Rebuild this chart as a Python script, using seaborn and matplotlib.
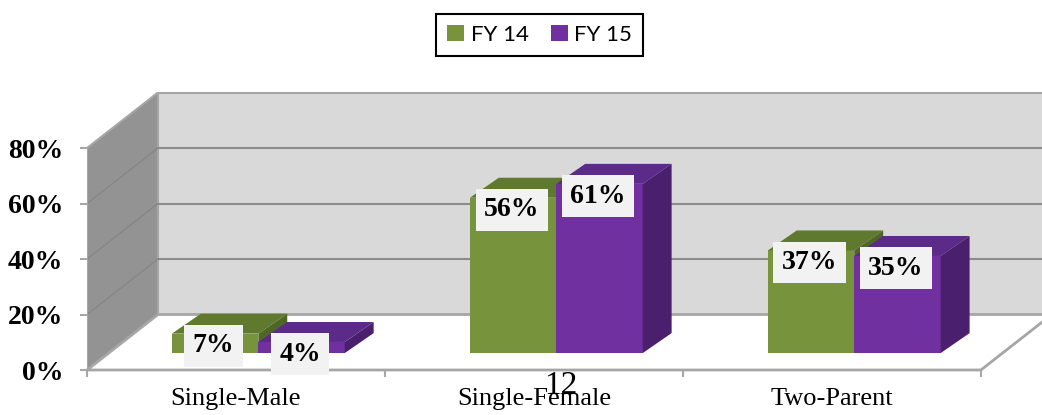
import numpy as np
import pandas as pd
import seaborn as sns
import matplotlib.pyplot as plt
from matplotlib.patches import Polygon, Rectangle

groups = ['Single-Male', 'Single-Female', 'Two-Parent']
fy14 = [7, 56, 37]
fy15 = [4, 61, 35]
years = ['FY 14', 'FY 15']
yticks = [0, 20, 40, 60, 80]

df = pd.DataFrame({
    'group': groups * 2,
    'value': fy14 + fy15,
    'year': [years[0]] * 3 + [years[1]] * 3,
})

green, purple = '#77933c', '#7030a0'
tops = {0: '#5f7a2e', 1: '#5c2a88'}
sides = {0: '#4f6626', 1: '#4a1f6e'}

sns.set_style('white')
plt.rcParams['text.color'] = 'black'
plt.rcParams['xtick.color'] = 'black'
plt.rcParams['ytick.color'] = 'black'
fig = plt.figure(figsize=(10.42, 4.15), dpi=100)
ax = fig.add_axes([87 / 1042, 45 / 415, 955 / 1042, 278 / 415])

sns.barplot(data=df, x='group', y='value', hue='year', palette=[green, purple],
            width=0.58, saturation=1, ax=ax, zorder=3, edgecolor='none', linewidth=0)
bars = [p for p in ax.patches if isinstance(p, Rectangle) and abs(p.get_width() - 0.29) < 0.01]

# depth of the pseudo 3d box, in data units
DX, DY = 0.238, 20.0
# bars sit a bit back from the front plane
bdx, bdy = 0.075, 6.1
ddx, ddy = 0.097, 7.2

ax.set_xlim(-0.5, 2.705)
ax.set_ylim(0, 100.2)
for s in ax.spines.values():
    s.set_visible(False)

# walls and floor
ax.add_patch(Polygon([(-0.5 + DX, DY), (2.5 + DX, DY), (2.5 + DX, 100), (-0.5 + DX, 100)],
                     closed=True, fc='#d9d9d9', ec='#a6a6a6', lw=1.5, zorder=0))
ax.add_patch(Polygon([(-0.5, 0), (-0.5 + DX, DY), (-0.5 + DX, 100), (-0.5, 80)],
                     closed=True, fc='#939393', ec='#a6a6a6', lw=1.5, zorder=0))
ax.add_patch(Polygon([(-0.5, 0), (2.5, 0), (2.5 + DX, DY), (-0.5 + DX, DY)],
                     closed=True, fc='white', ec='#a6a6a6', lw=2, zorder=0.5, clip_on=False))
for v in [20, 40, 60]:
    ax.plot([-0.5 + DX, 2.5 + DX], [v + DY, v + DY], color='#8c8c8c', lw=1.5, zorder=0.6)
    ax.plot([-0.5, -0.5 + DX], [v, v + DY], color='#868686', lw=1, zorder=0.6)
ax.plot([-0.5, -0.5], [0, 80], color='#a6a6a6', lw=1.5, zorder=0.7)

# turn flat bars into boxes
for i, p in enumerate(bars):
    k = 0 if i < 3 else 1
    x0, w, h = p.get_x() + bdx, p.get_width(), p.get_height()
    p.set_x(x0)
    p.set_y(bdy)
    p.set_zorder(2 + k)
    ax.add_patch(Polygon([(x0, bdy + h), (x0 + w, bdy + h), (x0 + w + ddx, bdy + h + ddy), (x0 + ddx, bdy + h + ddy)],
                         closed=True, fc=tops[k], ec='none', zorder=2 + k))
    ax.add_patch(Polygon([(x0 + w, bdy), (x0 + w + ddx, bdy + ddy), (x0 + w + ddx, bdy + h + ddy), (x0 + w, bdy + h)],
                         closed=True, fc=sides[k], ec='none', zorder=2 + k))
    ax.text(x0 + w / 2 - 0.005, bdy + h - 4.4, f'{h:.0f}%', ha='center', va='center', color='black',
            fontsize=20, fontweight='bold', family='Liberation Serif', zorder=6,
            bbox=dict(fc='#f2f2f2', ec='none', pad=6))

ax.set_yticks(yticks)
ax.set_yticklabels([f'{t}%' for t in yticks], fontsize=20, fontweight='bold', family='Liberation Serif')
ax.tick_params(axis='y', length=5, width=1.5, color='#a6a6a6', labelcolor='black', pad=12, left=True)
ax.set_xticks(range(3))
ax.set_xticklabels(groups, fontsize=19, family='Liberation Serif')
ax.tick_params(axis='x', which='major', length=0, pad=13, labelcolor='black')
ax.set_xticks([-0.5, 0.5, 1.5, 2.5], minor=True)
ax.tick_params(axis='x', which='minor', length=5, width=1.5, color='#a6a6a6', bottom=True)
ax.set_xlabel('')
ax.set_ylabel('')

handles, labels = ax.get_legend_handles_labels()
ax.legend(handles, labels, loc='center', bbox_to_anchor=(0.518, 0.916), bbox_transform=fig.transFigure,
          ncol=2, frameon=True, fancybox=False, edgecolor='black', framealpha=1,
          handlelength=0.75, handleheight=0.75, handletextpad=0.3, columnspacing=1.0,
          prop={'family': 'Lato', 'size': 16}, borderpad=0.5)
ax.get_legend().get_frame().set_linewidth(1.5)

fig.text(561 / 1042, 1 - 386 / 415, '12', ha='center', va='center', fontsize=24, family='Liberation Serif')

fig.savefig('out.png', dpi=100)
